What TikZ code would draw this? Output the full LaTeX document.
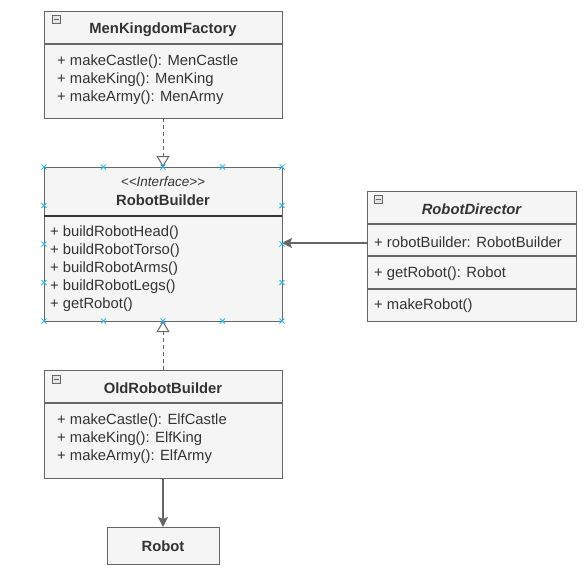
\documentclass[tikz,border=0pt]{standalone}
\usepackage{fontspec}
\setmainfont{Liberation Sans}
\usetikzlibrary{arrows.meta}
\definecolor{boxfill}{HTML}{F5F5F5}
\definecolor{boxline}{HTML}{666666}
\definecolor{txt}{HTML}{333333}
\definecolor{mark}{HTML}{29B6F2}
\tikzset{
  umlbox/.style={draw=boxline, fill=boxfill, line width=1.2pt, anchor=north west, inner sep=0pt},
  sep/.style={draw=boxline, line width=1.2pt},
  member/.style={anchor=west, inner sep=0pt, text=txt, font=\fontsize{14.8}{17}\selectfont},
  title/.style={inner sep=0pt, text=txt, font=\fontsize{14.8}{17}\selectfont\bfseries},
  realize/.style={draw=boxline, line width=1pt, dash pattern=on 4pt off 3pt, -{Triangle[open, length=11pt, width=13pt]}},
  assoc/.style={draw=boxline, line width=1.3pt, -{Stealth[length=10pt, width=10pt, inset=2pt]}},
  xmark/.style={draw=mark, line width=0.9pt},
  icon/.style={draw=boxline, fill=white!80!gray, line width=0.6pt}
}
\newcommand{\collapseicon}[2]{%
  \draw[icon] (#1,#2) rectangle ++(8,8);
  \draw[boxline, line width=1pt] (#1+1.5,#2+4) -- ++(5,0);
}
\begin{document}
\begin{tikzpicture}[x=1pt, y=-1pt]
\useasboundingbox (0,0) rectangle (588,574);

% MenKingdomFactory
\node[umlbox, minimum width=238pt, minimum height=107pt] (mkf) at (44,11) {};
\draw[sep] (44,44) -- (282,44);
\collapseicon{52}{15}
\node[title] (mkft) at (163,29.5) {MenKingdomFactory};
\node[member] (mkf1) at (57,62) {+ makeCastle(): MenCastle};
\node[member] (mkf2) at (57,80) {+ makeKing(): MenKing};
\node[member] (mkf3) at (57,98) {+ makeArmy(): MenArmy};

% RobotBuilder
\node[umlbox, minimum width=238pt, minimum height=154pt] (rb) at (44,167) {};
\draw[draw=txt, line width=1.2pt] (44,216) -- (282,216);
\node[inner sep=0pt, text=txt, font=\fontsize{13.5}{15}\selectfont\itshape] (rbs) at (163,182) {<\kern0pt<Interface>\kern0pt>};
\node[title] (rbt) at (163,200) {RobotBuilder};
\node[member] (rb1) at (50,233) {+ buildRobotHead()};
\node[member] (rb2) at (50,251) {+ buildRobotTorso()};
\node[member] (rb3) at (50,269) {+ buildRobotArms()};
\node[member] (rb4) at (50,287) {+ buildRobotLegs()};
\node[member] (rb5) at (50,305) {+ getRobot()};

% RobotDirector
\node[umlbox, minimum width=209pt, minimum height=130pt] (rd) at (367,191) {};
\draw[sep] (367,224) -- (576,224);
\draw[sep] (367,256) -- (576,256);
\draw[sep] (367,289) -- (576,289);
\collapseicon{374}{195}
\node[inner sep=0pt, text=txt, font=\fontsize{14.8}{17}\selectfont\bfseries\itshape] (rdt) at (471.5,209) {RobotDirector};
\node[member] (rd1) at (374,242) {+ robotBuilder: RobotBuilder};
\node[member] (rd2) at (374,274) {+ getRobot(): Robot};
\node[member] (rd3) at (374,306) {+ makeRobot()};

% OldRobotBuilder
\node[umlbox, minimum width=238pt, minimum height=108pt] (orb) at (44,370) {};
\draw[sep] (44,403) -- (282,403);
\collapseicon{52}{375}
\node[title] (orbt) at (163,388) {OldRobotBuilder};
\node[member] (orb1) at (57,421) {+ makeCastle(): ElfCastle};
\node[member] (orb2) at (57,439) {+ makeKing(): ElfKing};
\node[member] (orb3) at (57,457) {+ makeArmy(): ElfArmy};

% Robot
\node[umlbox, minimum width=112pt, minimum height=37pt] (robot) at (107,527) {};
\node[title] (robott) at (163,546.5) {Robot};

% connectors
\coordinate (mkfb) at (163,118);
\coordinate (rbtop) at (163,167);
\coordinate (rbbot) at (163,321);
\coordinate (orbtop) at (163,370);
\coordinate (orbbot) at (163,478);
\coordinate (robtop) at (163,527);
\coordinate (rdl) at (367,243);
\coordinate (rbr) at (282,243);
\draw[realize] (mkfb) -- (rbtop);
\draw[realize] (orbtop) -- (rbbot);
\draw[assoc] (rdl) -- (rbr);
\draw[assoc] (orbbot) -- (robtop);

% selection marks
\foreach \x in {44,103.5,163,222.5,282} {
  \foreach \y in {167,321} {
    \draw[xmark] (\x-2.5,\y-2.5) -- (\x+2.5,\y+2.5) (\x-2.5,\y+2.5) -- (\x+2.5,\y-2.5);
  }
}
\foreach \x in {44,282} {
  \foreach \y in {205.5,244,282.5} {
    \draw[xmark] (\x-2.5,\y-2.5) -- (\x+2.5,\y+2.5) (\x-2.5,\y+2.5) -- (\x+2.5,\y-2.5);
  }
}
\end{tikzpicture}
\end{document}
